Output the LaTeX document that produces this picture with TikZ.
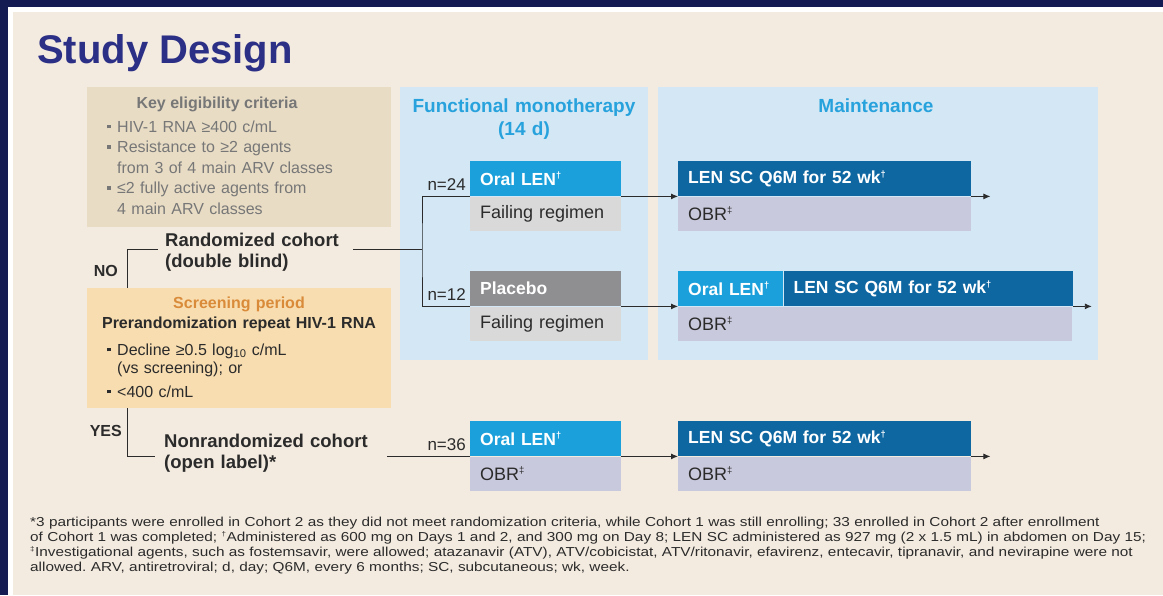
\documentclass[tikz,border=0pt]{standalone}
\usepackage{fontspec}
\setmainfont{Liberation Sans}
\newfontfamily\footfont[FakeStretch=1.18]{Liberation Sans}
\usetikzlibrary{positioning,arrows.meta}
\frenchspacing

\definecolor{navy}{HTML}{141A52}
\definecolor{paper}{HTML}{F4EBE0}
\definecolor{tan}{HTML}{E8DCC5}
\definecolor{peach}{HTML}{F8DDB0}
\definecolor{rust}{HTML}{D98B3A}
\definecolor{panel}{HTML}{D3E7F5}
\definecolor{skyhead}{HTML}{27A2DC}
\definecolor{sky}{HTML}{1BA0DB}
\definecolor{deepblue}{HTML}{0F67A2}
\definecolor{pbo}{HTML}{8F8F92}
\definecolor{lgray}{HTML}{D9D9D9}
\definecolor{lilac}{HTML}{C9C9DD}
\definecolor{ttitle}{HTML}{2B2F85}
\definecolor{ink}{HTML}{2B2B2B}
\definecolor{critgray}{HTML}{777777}

\newcommand{\sqbul}{\raisebox{0.22em}{\rule{3.5pt}{3.5pt}}}
\newcommand{\bitem}{\makebox[10pt][l]{\sqbul}}
\newcommand{\bcont}{\hspace*{10pt}}
\newcommand{\sdag}{\textsuperscript{\scalebox{0.75}{\textdagger}}}
\newcommand{\sddag}{\textsuperscript{\scalebox{0.75}{\textdaggerdbl}}}

\begin{document}
\begin{tikzpicture}[x=1pt, y=-1pt,
    >={Latex[length=7pt,width=6pt]},
    link/.style={draw=ink, line width=0.9pt},
    cell/.style={anchor=north west, text width=#1, inner xsep=10pt, inner ysep=0pt,
        minimum height=35pt, align=left, font=\fontsize{18}{21}\selectfont},
    drug/.style={cell=#1, fill=sky, text=white, font=\bfseries\fontsize{17.5}{21}\selectfont},
    inj/.style={cell=#1, fill=deepblue, text=white, font=\bfseries\fontsize{17.5}{21}\selectfont},
    pla/.style={cell=#1, fill=pbo, text=white, font=\bfseries\fontsize{17.5}{21}\selectfont},
    bgr/.style={cell=#1, fill=lgray, text=ink, minimum height=34pt},
    obr/.style={cell=#1, fill=lilac, text=ink, minimum height=34pt},
    area/.style={anchor=north west, inner sep=0pt},
    nlab/.style={inner sep=0pt, text=ink, font=\fontsize{17}{20}\selectfont},
    cohort/.style={anchor=base west, inner xsep=7pt, inner ysep=0pt, align=left, text=ink,
        font=\bfseries\fontsize{18.5}{21}\selectfont},
    phasehead/.style={anchor=base, inner sep=0pt, text width=240pt, align=center,
        text=skyhead, font=\bfseries\fontsize{19}{23}\selectfont},
    yesno/.style={anchor=base east, inner sep=0pt, text=ink, font=\bfseries\fontsize{16}{19}\selectfont}]

    % page
    \useasboundingbox (0,0) rectangle (1163,595);
    \fill[navy] (0,0) rectangle (1163,595);
    \fill[white] (8,7) rectangle (1163,595);
    \fill[paper] (13,12) rectangle (1163,595);

    \node[anchor=base west, inner sep=0pt, text=ttitle, font=\bfseries\fontsize{40}{44}\selectfont] (title) at (37,63) {Study Design};

    % background panels
    \node[area, fill=tan, minimum width=304pt, minimum height=140pt] (elig) at (87,87) {};
    \node[area, fill=peach, minimum width=304pt, minimum height=120pt] (screen) at (87,288) {};
    \node[area, fill=panel, minimum width=248pt, minimum height=273pt] (fmono) at (400,87) {};
    \node[area, fill=panel, minimum width=440pt, minimum height=273pt] (maint) at (658,87) {};

    % eligibility
    \node[anchor=base, inner sep=0pt, text=critgray, font=\bfseries\fontsize{16}{19}\selectfont] (eligh) at (217,108) {Key eligibility criteria};
    \node[anchor=base west, inner sep=0pt, text width=280pt, align=left, text=critgray,
        font=\fontsize{16}{20.5}\selectfont] (crit) at (107,132)
        {\bitem HIV-1 RNA ≥400 c/mL\\ \bitem Resistance to ≥2 agents\\ \bcont from 3 of 4 main ARV classes\\
         \bitem ≤2 fully active agents from\\ \bcont 4 main ARV classes};

    % screening
    \node[anchor=base, inner sep=0pt, text width=300pt, align=center, text=ink,
        font=\bfseries\fontsize{16}{20}\selectfont] (scrh) at (239,308)
        {\textcolor{rust}{Screening period}\\Prerandomization repeat HIV-1 RNA};
    \node[anchor=base west, inner sep=0pt, text width=280pt, align=left, text=ink,
        font=\fontsize{16}{18}\selectfont] (scrb) at (107,355)
        {\bitem Decline ≥0.5 log\textsubscript{10} c/mL\\ \bcont (vs screening); or\\[6pt] \bitem <400 c/mL};

    % cohorts
    \node[cohort, text width=181pt] (rand) at (158,246) {Randomized cohort\\(double blind)};
    \node[cohort, inner xsep=9pt, text width=214pt] (nonrand) at (155,447) {Nonrandomized cohort\\(open label)*};
    \node[yesno] (no) at (118,276) {NO};
    \node[yesno] (yes) at (122,436) {YES};

    % phase headings
    \node[phasehead] (fmh) at (524,112) {Functional monotherapy\\(14 d)};
    \node[phasehead] (mh) at (876,112) {Maintenance};

    % randomized arms
    \node[drug=131pt] (olen1) at (470,161) {Oral LEN\sdag};
    \node[bgr=131pt, below=0pt of olen1] (fail1) {Failing regimen};
    \node[pla=131pt] (pbo1) at (470,271) {Placebo};
    \node[bgr=131pt, below=0pt of pbo1] (fail2) {Failing regimen};

    \node[inj=273pt] (lensc1) at (678,161) {LEN SC Q6M for 52 wk\sdag};
    \node[obr=273pt, below=0pt of lensc1] (obr1) {OBR\sddag};
    \node[drug=85pt] (olen2) at (678,271) {\mbox{Oral LEN\sdag}};
    \node[inj=269pt, right=0pt of olen2] (lensc2) {LEN SC Q6M for 52 wk\sdag};
    \node[obr=374pt, below=0pt of olen2.south west, anchor=north west] (obr2) {OBR\sddag};

    % nonrandomized arm
    \node[drug=131pt] (olen3) at (470,421) {Oral LEN\sdag};
    \node[obr=131pt, below=0pt of olen3] (obr3) {OBR\sddag};
    \node[inj=273pt] (lensc3) at (678,421) {LEN SC Q6M for 52 wk\sdag};
    \node[obr=273pt, below=0pt of lensc3] (obr3b) {OBR\sddag};

    \node[nlab, above left=6pt and 4pt of olen1.south west] (n24) {n=24};
    \node[nlab, above left=6pt and 4pt of pbo1.south west] (n12) {n=12};
    \node[nlab, above left=6pt and 4pt of olen3.south west] (n36) {n=36};

    % connectors
    \coordinate (rsplit) at (422,249);
    \coordinate[right=19pt of lensc1.south east] (out1);
    \coordinate[right=19pt of lensc2.south east] (out2);
    \coordinate[right=19pt of lensc3.south east] (out3);

    \draw[link] (rand.west |- rsplit) -| ([xshift=40pt]screen.north west);
    \draw[link] ([xshift=40pt]screen.south west) |- (nonrand.west |- olen3.south west);
    \draw[link] (rand.east |- rsplit) -- (rsplit);
    \draw[link] (olen1.south west) -| (rsplit) |- (pbo1.south west);
    \draw[link] (nonrand.east |- olen3.south west) -- (olen3.south west);

    \draw[link, ->] (olen1.south east) -- (lensc1.south west);
    \draw[link, ->] (pbo1.south east) -- (olen2.south west);
    \draw[link, ->] (olen3.south east) -- (lensc3.south west);
    \draw[link, ->] (lensc1.south east) -- (out1);
    \draw[link, ->] (lensc2.south east) -- (out2);
    \draw[link, ->] (lensc3.south east) -- (out3);

    % footnote
    \node[anchor=base west, inner sep=0pt, text width=1130pt, align=left, text=ink,
        font=\footfont\fontsize{13}{15}\selectfont] (foot) at (30,526)
        {*3 participants were enrolled in Cohort 2 as they did not meet randomization criteria, while Cohort 1 was still enrolling; 33 enrolled in Cohort 2 after enrollment\\
         of Cohort 1 was completed; \sdag Administered as 600 mg on Days 1 and 2, and 300 mg on Day 8; LEN SC administered as 927 mg (2 x 1.5 mL) in abdomen on Day 15;\\
         \sddag Investigational agents, such as fostemsavir, were allowed; atazanavir (ATV), ATV/cobicistat, ATV/ritonavir, efavirenz, entecavir, tipranavir, and nevirapine were not\\
         allowed. ARV, antiretroviral; d, day; Q6M, every 6 months; SC, subcutaneous; wk, week.};
\end{tikzpicture}
\end{document}
